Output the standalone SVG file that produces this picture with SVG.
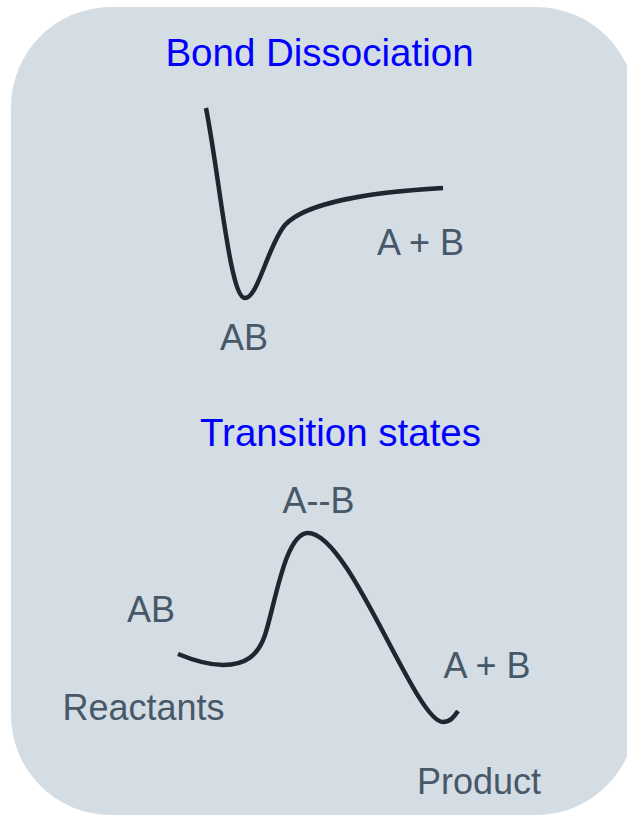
<svg xmlns="http://www.w3.org/2000/svg" width="627" height="816" viewBox="0 0 627 816">
  <style>
    .title { font-family: "Liberation Sans", Arial, sans-serif; font-size: 38.5px; fill: #0000ff; text-anchor: middle; }
    .label { font-family: "Liberation Sans", Arial, sans-serif; font-size: 36px; fill: #475869; text-anchor: middle; }
    .curve { fill: none; stroke: #1f2630; stroke-width: 4.5; stroke-linecap: butt; stroke-linejoin: round; }
  </style>
  <rect id="panel" x="11" y="7" width="625" height="808" rx="100" ry="100" fill="#d5dde4"/>

  <g id="bond-dissociation">
    <text class="title" x="319.5" y="66">Bond Dissociation</text>
    <path class="curve" d="M206,108 C220,180 230,298 245,298 C258,298 268,245 285,225 C305,203 370,192 443,188"/>
    <text class="label" x="420.5" y="255">A + B</text>
    <text class="label" x="244" y="350">AB</text>
  </g>

  <g id="transition-states">
    <text class="title" x="340.5" y="446">Transition states</text>
    <path class="curve" d="M178,654 C195,661 210,665 223,665 C245,665 258,656 265,635 C275,605 285,533 308,533 C350,533 415,722 443,722 C450,722 454,717 458,711"/>
    <text class="label" x="318.5" y="513">A--B</text>
    <text class="label" x="151" y="622">AB</text>
    <text class="label" x="143.5" y="720">Reactants</text>
    <text class="label" x="487" y="678">A + B</text>
    <text class="label" x="479" y="794">Product</text>
  </g>
</svg>
